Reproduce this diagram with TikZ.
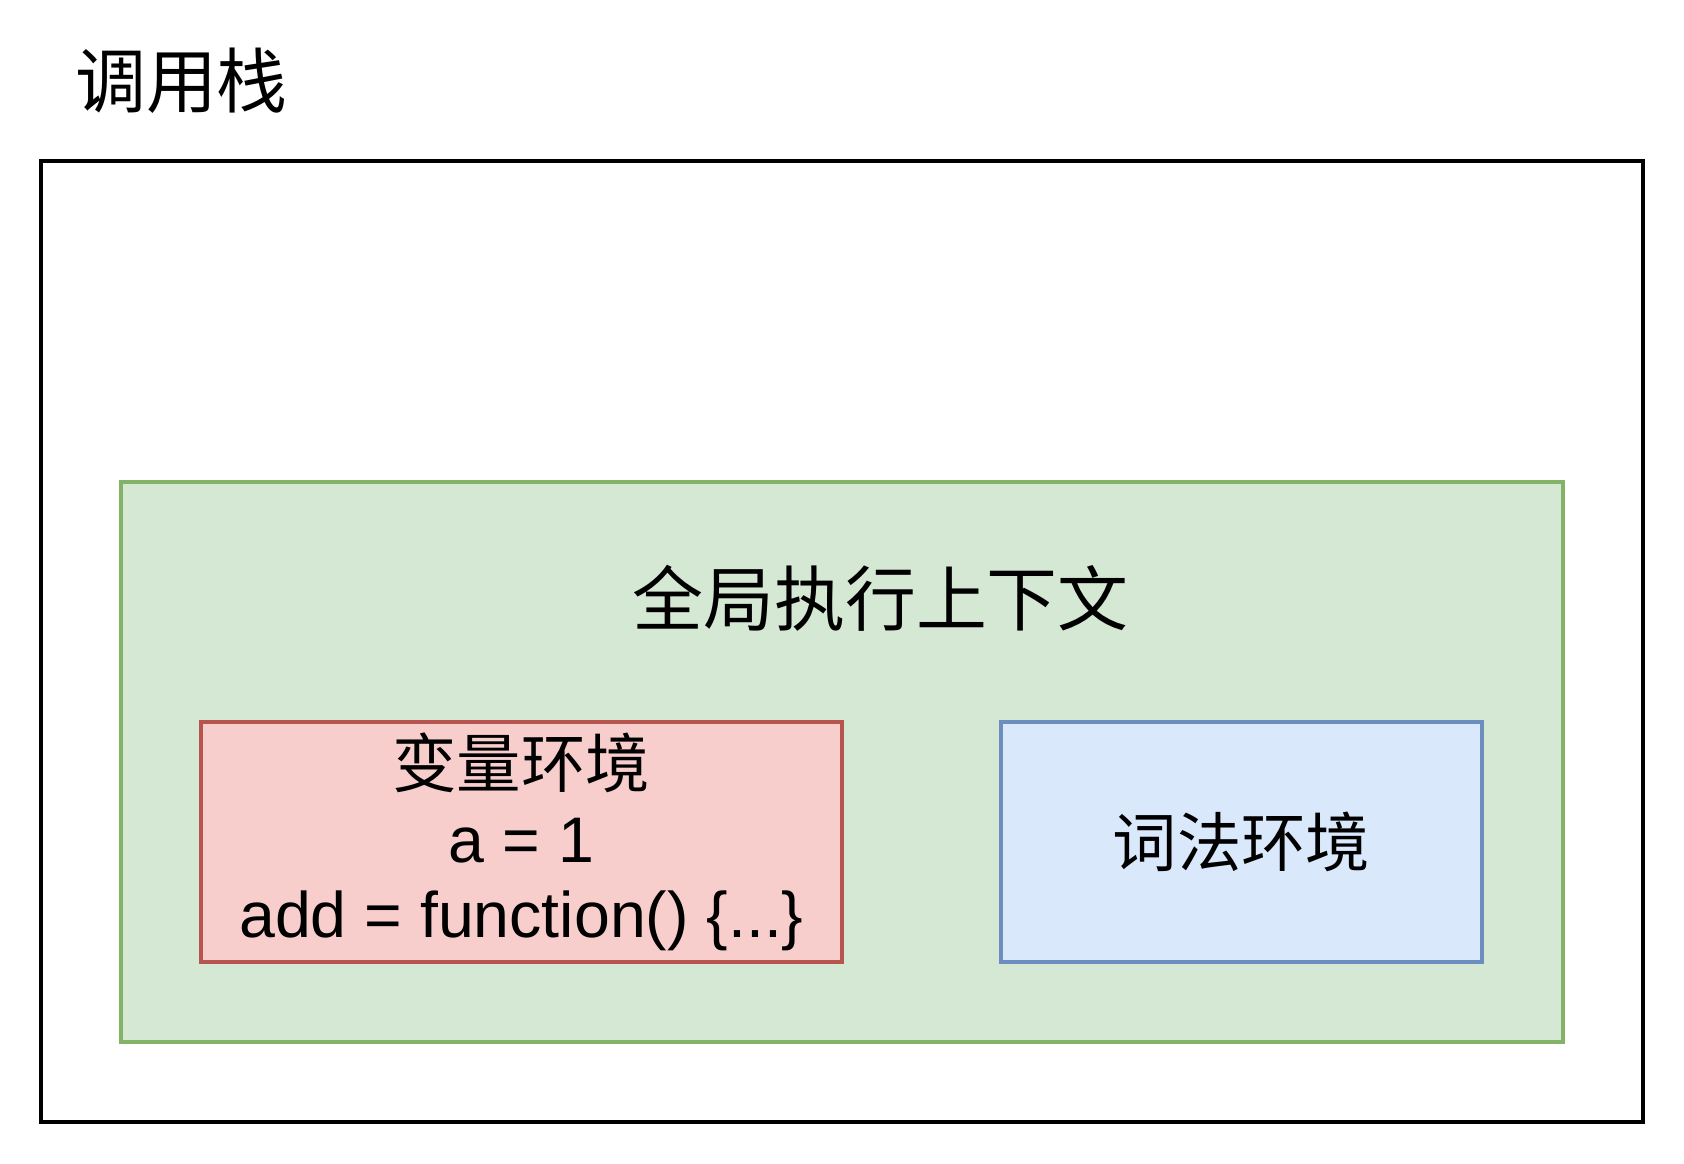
\documentclass[tikz,border=0pt]{standalone}
\usepackage{fontspec}
\setmainfont{Liberation Sans}
\newfontfamily\cjk{Noto Sans CJK SC}
\usepackage{tikz}

\definecolor{greenfill}{HTML}{D5E8D4}
\definecolor{greenline}{HTML}{82B366}
\definecolor{redfill}{HTML}{F8CECC}
\definecolor{redline}{HTML}{B85450}
\definecolor{bluefill}{HTML}{DAE8FC}
\definecolor{blueline}{HTML}{6C8EBF}

\tikzset{
	box/.style = {draw, rectangle, inner sep = 0pt, line width = 1.1pt, align = center},
	bigtext/.style = {font = \fontsize{19.8}{23}\selectfont\cjk},
	boxtext/.style = {font = \fontsize{18}{21}\selectfont}
}

\begin{document}
\begin{tikzpicture}[x = .3pt, y = -.3pt]
	\useasboundingbox (0,0) rectangle (1568,1083.8);
	\node [bigtext] (title) at (169,75) {调用栈};
	\node [box, minimum width = 447.6pt, minimum height = 268.5pt] (stack) at (784,597.5) {};
	\node [box, draw = greenline, fill = greenfill, minimum width = 402.6pt, minimum height = 156.3pt] (global) at (784,709.5) {};
	\node [bigtext] (globaltext) at (820,557) {全局执行上下文};
	\node [box, boxtext, draw = redline, fill = redfill, minimum width = 179.1pt, minimum height = 67.2pt] (variable) at (485.5,784) {{\cjk 变量环境}\\a = 1\\add = function() \{...\}};
	\node [box, boxtext, draw = blueline, fill = bluefill, minimum width = 134.4pt, minimum height = 67.2pt] (lexical) at (1156,784) {\cjk 词法环境};
\end{tikzpicture}
\end{document}
